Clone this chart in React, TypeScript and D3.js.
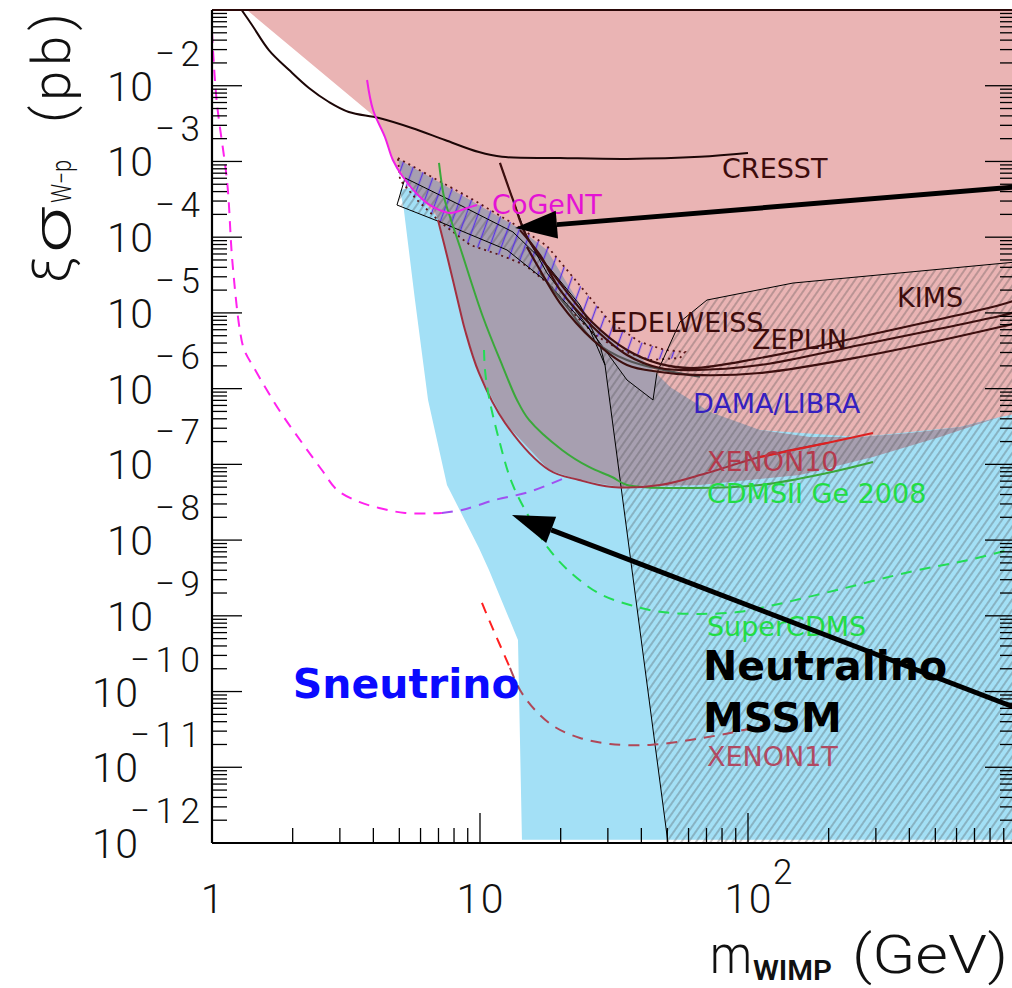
import React, { useEffect, useRef } from "react";
import * as d3 from "d3";

type Pt = [number, number];

// all points: [WIMP mass (GeV), cross section (pb)]
const sneutrinoRegion: Pt[] = [
  [5.03, 4.2e-4], [5.2, 2.29e-4], [5.72, 1.48e-5], [6.4, 7.08e-7], [7.53, 5.34e-8],
  [9.91, 7.87e-9], [10.8, 4.03e-9], [13.86, 4.8e-10], [14.34, 1.1e-12], [1000, 1.1e-12],
  [1000, 1.3e-6], [156, 1.3e-6], [28, 5.95e-6], [11.87, 6.78e-5], [7.09, 3.1e-4], [5.97, 4.9e-4],
];

const excludedRegion: Pt[] = [
  [1.35, 1e-1], [1000, 1e-1], [1000, 4.63e-7], [871, 4.22e-7], [618, 3.12e-7], [262, 2.3e-7],
  [111, 2.84e-7], [66.2, 3.86e-7], [28, 1.3e-6], [11.87, 1.48e-5], [7.09, 1.69e-4],
  [5.25, 5.69e-4], [4.99, 7.05e-4], [4.73, 1.045e-3], [4.42, 2.1e-3], [4.06, 3.86e-3],
];

const overlapRegion: Pt[] = [
  [4.94, 1.08e-3], [6.51, 6.24e-4], [9.18, 3.1e-4], [13.74, 1.36e-4], [17.78, 6.78e-5],
  [20.77, 2.72e-5], [25.72, 8.06e-6], [33.27, 3.44e-6], [39.54, 2.62e-6], [51.18, 1.05e-6],
  [72.13, 4.92e-7], [110.9, 2.84e-7], [170.3, 2.3e-7], [261.8, 2.3e-7], [402, 2.6e-7],
  [618, 3.12e-7], [871, 4.22e-7], [520, 2.3e-7], [292.6, 1.25e-7], [156.3, 7.24e-8],
  [66.17, 5.34e-8], [33.27, 5.03e-8], [23.41, 6.22e-8], [18.09, 8.43e-8], [12.4, 3.52e-7],
  [9.91, 1.61e-6], [8.79, 5.95e-6], [8.42, 1.093e-5], [7.6, 5.0e-5], [6.97, 1.69e-4],
  [6.68, 2.51e-4], [5.97, 3.4e-4], [5.16, 6.24e-4],
];

const neutralinoRegion: Pt[] = [
  [4.9, 2.66e-4], [5.25, 6.05e-4], [8.42, 2.66e-4], [13.28, 1.17e-4], [17.78, 4.29e-5],
  [22.23, 1.197e-5], [28.03, 4.01e-6], [35.36, 1.3e-6], [44.22, 7.08e-7], [45.72, 1.61e-6],
  [55.72, 7.59e-6], [70.3, 1.48e-5], [147.2, 2.48e-5], [1000, 4.7e-5], [1000, 1e-12],
  [50.29, 1e-12], [29.27, 2.05e-6], [25.72, 5.95e-6], [17.78, 2.56e-5], [12.61, 6.78e-5],
  [7.09, 1.59e-4],
];

const boxUpper: Pt[] = [
  [5.25, 6.05e-4], [8.42, 2.66e-4], [13.28, 1.17e-4], [17.78, 4.29e-5], [23.6, 1.27e-5],
  [28.03, 3.77e-6], [29.27, 2.05e-6],
];
const boxLower: Pt[] = [
  [5.25, 6.05e-4], [4.9, 2.66e-4], [7.09, 1.59e-4], [12.61, 6.78e-5], [17.78, 2.56e-5],
  [25.72, 5.95e-6], [29.27, 2.05e-6], [50.29, 1e-12],
];
const heavyEdge: Pt[] = [
  [11.87, 9.55e-4], [13.28, 3.1e-4], [14.97, 1.006e-4], [17.78, 3.37e-5], [22.23, 1.197e-5],
  [28.03, 4.01e-6], [35.36, 1.3e-6], [44.22, 7.08e-7], [45.72, 1.61e-6], [55.72, 7.59e-6],
  [70.3, 1.48e-5], [147.2, 2.48e-5], [1000, 4.7e-5],
];

const damaRegion: Pt[] = [
  [4.94, 1.11e-3], [6.51, 6.43e-4], [9.18, 3.3e-4], [13.74, 1.41e-4], [17.78, 7.66e-5],
  [23.01, 2.56e-5], [30.56, 7.59e-6], [39.54, 4.13e-6], [48.99, 3.24e-6], [58.2, 3.05e-6],
  [55.72, 2.54e-6], [43.07, 2.39e-6], [33.27, 3.24e-6], [26.85, 5.11e-6], [21.67, 1.093e-5],
  [18.25, 2.34e-5], [14.72, 4.29e-5], [11.87, 5.82e-5], [9.18, 7.89e-5], [7.09, 1.59e-4],
  [5.82, 3.1e-4], [5.03, 5.69e-4],
];

const cresst: Pt[] = [
  [1.29, 1e-1], [1.41, 6.34e-2], [1.63, 2.96e-2], [1.94, 1.61e-2], [2.3, 9.33e-3],
  [2.73, 6.1e-3], [3.24, 4.5e-3], [4.2, 3.75e-3], [5.57, 2.77e-3], [7.4, 1.92e-3],
  [9.91, 1.33e-3], [12.08, 1.15e-3], [19.89, 1.11e-3], [35.36, 1.08e-3], [66.17, 1.15e-3],
  [100, 1.29e-3],
];
const kims: Pt[] = [
  [11.87, 9.55e-4], [13.28, 3.1e-4], [14.97, 1.006e-4], [19.89, 2.48e-5], [26.4, 7.36e-6],
  [35.36, 3.24e-6], [46.94, 2.12e-6], [62.34, 1.87e-6], [110.9, 2.54e-6], [261.8, 4.81e-6],
  [871, 1.27e-5], [1000, 1.48e-5],
];
const zeplin: Pt[] = [
  [14.1, 1.24e-4], [16.74, 5.82e-5], [19.89, 2.01e-5], [26.4, 6.52e-6], [35.36, 2.78e-6],
  [46.94, 1.87e-6], [62.34, 1.76e-6], [110.9, 2.05e-6], [261.8, 3.77e-6], [871, 9.11e-6],
  [1000, 1.03e-5],
];
const edelweiss: Pt[] = [
  [14.97, 7.42e-5], [16.74, 3.69e-5], [19.89, 1.35e-5], [26.4, 4.39e-6], [35.36, 2.05e-6],
  [46.94, 1.66e-6], [62.34, 1.515e-6], [110.9, 1.61e-6], [261.8, 2.62e-6], [871, 6.52e-6],
  [1000, 7.36e-6],
];
const cdmsSi: Pt[] = [
  [16.74, 3.37e-5], [21.12, 1.197e-5], [26.4, 4.39e-6], [35.36, 2.39e-6], [66.17, 1.43e-6],
];
const cogent: Pt[] = [
  [3.79, 1.19e-2], [3.99, 4.78e-3], [4.42, 2.1e-3], [4.73, 1.045e-3], [5.16, 6.24e-4],
  [5.97, 3.4e-4], [6.68, 2.51e-4], [7.73, 2.09e-4], [8.94, 2.43e-4], [9.75, 2.66e-4],
];
const cdmsGe: Pt[] = [
  [7.03, 9.55e-4], [7.34, 3.4e-4], [7.73, 1.85e-4], [8.42, 7.42e-5], [10.26, 8.83e-6],
  [12.18, 1.93e-6], [13.74, 7.08e-7], [15.24, 3.86e-7], [20.23, 1.55e-7], [25.51, 9.24e-8],
  [31.09, 6.81e-8], [35.36, 5.34e-8], [62.34, 4.88e-8], [110.9, 5.34e-8], [197.1, 7.69e-8],
  [292.6, 1.075e-7],
];
const xenon10: Pt[] = [
  [6.97, 1.69e-4], [7.6, 5.0e-5], [8.42, 1.093e-5], [8.79, 5.95e-6], [9.91, 1.61e-6],
  [12.4, 3.52e-7], [18.09, 8.43e-8], [23.41, 6.22e-8], [31.09, 5.03e-8], [46.94, 5.34e-8],
  [70.3, 7.69e-8], [110.9, 1.25e-7], [197.1, 1.915e-7], [292.6, 2.6e-7],
];
const lightDashed: Pt[] = [
  [1.0, 5.12e-2], [1.04, 6.48e-3], [1.14, 5.19e-4], [1.19, 5.0e-5], [1.27, 5.95e-6],
  [1.32, 3.24e-6], [1.45, 1.76e-6], [1.78, 5.22e-7], [2.17, 1.915e-7], [2.57, 8.43e-8],
  [2.93, 4.59e-8], [3.54, 3.19e-8], [4.2, 2.66e-8], [5.25, 2.28e-8], [7.21, 2.28e-8],
];
const purpleDashed: Pt[] = [
  [7.21, 2.28e-8], [8.57, 2.5e-8], [11.38, 3.39e-8], [15.24, 4.32e-8], [21.12, 6.81e-8],
];
const superCdms: Pt[] = [
  [10.35, 3.24e-6], [10.44, 1.76e-6], [10.8, 7.76e-7], [11.78, 2.1e-7], [13.16, 5.68e-8],
  [15.24, 2.02e-8], [17.94, 7.87e-9], [21.67, 3.79e-9], [28.03, 1.94e-9], [36.28, 1.39e-9],
  [46.94, 1.13e-9], [66.17, 1.06e-9], [93.4, 1.13e-9], [120.8, 1.35e-9], [222.3, 2.26e-9],
  [416, 3.91e-9], [667.7, 5.46e-9], [1000, 7.87e-9],
];
const xenon1T: Pt[] = [
  [10.17, 1.48e-9], [10.89, 8.3e-10], [11.87, 4.12e-10], [12.94, 2.05e-10], [14.1, 1.05e-10],
  [16.04, 5.71e-11], [19.04, 3.4e-11], [23.6, 2.44e-11], [30.56, 2.03e-11], [43.07, 1.97e-11],
  [60.76, 2.29e-11], [85.7, 2.84e-11], [120.8, 3.73e-11],
];

const arrows: Pt[][] = [
  [[1000, 4.6e-4], [13.51, 1.32e-4]],
  [[1000, 6.07e-11], [13.16, 2.15e-8]],
];

const experimentLabels: [string, number, number][] = [
  ["CRESST", 80.0, 6.05e-4],
  ["CoGeNT", 11.09, 2.02e-4],
  ["KIMS", 359.7, 1.2e-5],
  ["EDELWEISS", 30.56, 5.6e-6],
  ["ZEPLIN", 103.5, 3.34e-6],
  ["DAMA/LIBRA", 62.34, 4.77e-7],
  ["XENON10", 70.3, 8.18e-8],
  ["CDMSII Ge 2008", 70.3, 3.09e-8],
  ["SuperCDMS", 70.3, 5.4e-10],
  ["XENON1T", 70.3, 1.04e-11],
];
const modelLabels: [string, number, number][] = [
  ["Sneutrino", 2.0, 8.22e-11],
  ["Neutralino", 67.9, 1.42e-10],
  ["MSSM", 67.9, 2.9e-11],
];

const labelColor: Record<string, string> = {
  CRESST: "#3c0c0c",
  CoGeNT: "#e412d4",
  KIMS: "#3c0c0c",
  EDELWEISS: "#3c0c0c",
  ZEPLIN: "#3c0c0c",
  "DAMA/LIBRA": "#3420c0",
  XENON10: "#b43a4c",
  "CDMSII Ge 2008": "#22dd44",
  SuperCDMS: "#22dd44",
  XENON1T: "#b04a62",
  Sneutrino: "#0a0aff",
  Neutralino: "#000",
  MSSM: "#000",
};

export default function App() {
  const ref = useRef<SVGSVGElement>(null);

  const drawChart = () => {
    const svg = d3.select(ref.current);
    svg.selectAll("*").remove();

    const left = 212, right = 1016, top = 10, bottom = 843;
    const x = d3.scaleLog().domain([1, 1000]).range([left, right]);
    const y = d3.scaleLog().domain([1e-12, 1e-1]).range([bottom, top]);

    const straight = d3.line<Pt>().x((d) => x(d[0])).y((d) => y(d[1]));
    const smooth = d3
      .line<Pt>()
      .x((d) => x(d[0]))
      .y((d) => y(d[1]))
      .curve(d3.curveCatmullRom.alpha(0.5));

    const defs = svg.append("defs");
    defs
      .append("clipPath")
      .attr("id", "plot")
      .append("rect")
      .attr("x", left)
      .attr("y", top)
      .attr("width", right - left)
      .attr("height", bottom - top);

    const hatch = defs
      .append("pattern")
      .attr("id", "hatch")
      .attr("patternUnits", "userSpaceOnUse")
      .attr("width", 6)
      .attr("height", 6)
      .attr("patternTransform", "rotate(35)");
    hatch
      .append("line")
      .attr("x1", 3).attr("y1", 0).attr("x2", 3).attr("y2", 6)
      .attr("stroke", "#4a4a4a")
      .attr("stroke-opacity", 0.75)
      .attr("stroke-width", 0.8);

    const damaHatch = defs
      .append("pattern")
      .attr("id", "damaHatch")
      .attr("patternUnits", "userSpaceOnUse")
      .attr("width", 11)
      .attr("height", 11)
      .attr("patternTransform", "rotate(20)");
    damaHatch
      .append("line")
      .attr("x1", 5.5).attr("y1", 0).attr("x2", 5.5).attr("y2", 11)
      .attr("stroke", "#5b36e6")
      .attr("stroke-width", 1.4);

    const g = svg.append("g").attr("clip-path", "url(#plot)");

    // filled regions
    const area = (pts: Pt[], fill: string) =>
      g.append("path").attr("d", straight(pts) + "Z").attr("fill", fill).attr("stroke", "none");
    area(sneutrinoRegion, "#a3e0f6");
    area(excludedRegion, "#eab4b4");
    area(overlapRegion, "#a79fb0");
    area(neutralinoRegion, "url(#hatch)");
    g.append("path")
      .attr("d", straight(damaRegion) + "Z")
      .attr("fill", "url(#damaHatch)")
      .attr("stroke", "#5a1616")
      .attr("stroke-width", 1.8)
      .attr("stroke-dasharray", "2 4");

    // thin outlines
    [boxUpper, boxLower, heavyEdge].forEach((pts) =>
      g.append("path").attr("d", straight(pts)).attr("fill", "none").attr("stroke", "#000").attr("stroke-width", 1)
    );

    const curve = (pts: Pt[], color: string, width: number, dash?: string) => {
      const p = g
        .append("path")
        .attr("d", smooth(pts))
        .attr("fill", "none")
        .attr("stroke", color)
        .attr("stroke-width", width)
        .attr("stroke-linejoin", "round");
      if (dash) p.attr("stroke-dasharray", dash);
    };
    curve(cresst, "#1c0606", 2);
    curve(cdmsSi, "#555", 2);
    curve(edelweiss, "#3d0f0f", 2.2);
    curve(zeplin, "#3d0f0f", 2.2);
    curve(kims, "#3d0f0f", 2.2);
    curve(cdmsGe, "#3aa83a", 2);
    curve(xenon10.slice(0, -1), "#a33040", 2);
    curve(xenon10.slice(-3), "#dd2020", 2);
    curve(cogent, "#f01ee6", 2);
    curve(lightDashed, "#ff22ee", 2, "11 8");
    curve(purpleDashed, "#a050f0", 2, "11 8");
    curve(superCdms, "#22dd55", 2, "11 8");
    curve(xenon1T.slice(0, 4), "#ff2020", 2, "11 8");
    curve(xenon1T.slice(3), "#b04858", 2, "11 8");

    // labels
    experimentLabels.forEach(([t, m, s]) =>
      g.append("text")
        .attr("x", x(m))
        .attr("y", y(s))
        .attr("font-family", "DejaVu Sans, sans-serif")
        .attr("font-size", 27)
        .attr("fill", labelColor[t])
        .text(t)
    );
    modelLabels.forEach(([t, m, s]) =>
      g.append("text")
        .attr("x", x(m))
        .attr("y", y(s))
        .attr("font-family", "DejaVu Sans, sans-serif")
        .attr("font-weight", "bold")
        .attr("font-size", 41)
        .attr("fill", labelColor[t])
        .text(t)
    );

    // arrows
    arrows.forEach(([from, to]) => {
      const x0 = x(from[0]), y0 = y(from[1]);
      const x1 = x(to[0]), y1 = y(to[1]);
      const len = Math.hypot(x1 - x0, y1 - y0);
      const ux = (x1 - x0) / len, uy = (y1 - y0) / len;
      const bx = x1 - ux * 42, by = y1 - uy * 42;
      g.append("line")
        .attr("x1", x0).attr("y1", y0).attr("x2", bx).attr("y2", by)
        .attr("stroke", "#000").attr("stroke-width", 5);
      g.append("path")
        .attr("d", `M${x1},${y1}L${bx - uy * 14},${by + ux * 14}L${bx + uy * 14},${by - ux * 14}Z`)
        .attr("fill", "#000");
    });

    // frame and ticks
    const axes = svg.append("g").attr("stroke", "#000");
    const isMajor = (v: number) => Math.abs(Math.log10(v) - Math.round(Math.log10(v))) < 1e-6;
    y.ticks(20).forEach((v) => {
      const len = isMajor(v) ? 30 : 15;
      axes.append("line").attr("x1", left).attr("x2", left + len).attr("y1", y(v)).attr("y2", y(v)).attr("stroke-width", 1.3);
      axes.append("line").attr("x1", right).attr("x2", right - len - 1).attr("y1", y(v)).attr("y2", y(v)).attr("stroke-width", 1.3);
    });
    x.ticks(20).forEach((v) => {
      const len = isMajor(v) ? 30 : 15;
      axes.append("line").attr("x1", x(v)).attr("x2", x(v)).attr("y1", bottom).attr("y2", bottom - len).attr("stroke-width", 1.3);
    });
    axes.append("line").attr("x1", left).attr("x2", right).attr("y1", top).attr("y2", top).attr("stroke", "#2a0808").attr("stroke-width", 2);
    axes.append("line").attr("x1", left).attr("x2", left).attr("y1", top).attr("y2", bottom).attr("stroke-width", 2.2);
    axes.append("line").attr("x1", left).attr("x2", right).attr("y1", bottom).attr("y2", bottom).attr("stroke-width", 2.2);

    const font = "Roboto, Liberation Sans, sans-serif";
    const label = svg.append("g").attr("font-family", font).attr("font-weight", 300).attr("fill", "#111");

    // y tick labels 10^k
    d3.range(-12, -1).forEach((k) => {
      const yy = y(Math.pow(10, k));
      const exp = "\u2212" + Math.abs(k);
      const two = Math.abs(k) >= 10;
      label.append("text")
        .attr("x", two ? 138 : 153).attr("y", yy + 15)
        .attr("text-anchor", "end").attr("font-size", 41)
        .attr("textLength", 46).attr("lengthAdjust", "spacing")
        .text("10");
      label.append("text")
        .attr("x", 200).attr("y", yy - 20)
        .attr("text-anchor", "end").attr("font-size", 35)
        .attr("textLength", two ? 70 : 45).attr("lengthAdjust", "spacing")
        .text(exp);
    });

    // x tick labels
    label.append("text").attr("x", x(1)).attr("y", 913).attr("text-anchor", "middle").attr("font-size", 41).text("1");
    label.append("text").attr("x", x(10)).attr("y", 913).attr("text-anchor", "middle").attr("font-size", 41)
      .attr("textLength", 47).attr("lengthAdjust", "spacing").text("10");
    label.append("text").attr("x", x(100)).attr("y", 913).attr("text-anchor", "middle").attr("font-size", 41)
      .attr("textLength", 47).attr("lengthAdjust", "spacing").text("10");
    label.append("text").attr("x", x(100) + 25).attr("y", 884).attr("font-size", 35).text("2");

    // x title
    label.append("text").attr("x", 710).attr("y", 973).attr("font-size", 54)
      .attr("textLength", 42).attr("lengthAdjust", "spacingAndGlyphs").text("m");
    label.append("text").attr("x", 753).attr("y", 980).attr("font-size", 28).attr("font-weight", 600)
      .attr("textLength", 79).attr("lengthAdjust", "spacingAndGlyphs").text("WIMP");
    label.append("text").attr("x", 852).attr("y", 973).attr("font-size", 54)
      .attr("textLength", 156).attr("lengthAdjust", "spacingAndGlyphs").text("(GeV)");

    // y title (rotated)
    const yt = label.append("g").attr("transform", "translate(70,285) rotate(-90)");
    yt.append("text").attr("x", 2).attr("y", 0).attr("font-size", 54)
      .attr("textLength", 26).attr("lengthAdjust", "spacingAndGlyphs").text("\u03be");
    yt.append("text").attr("x", 32).attr("y", 0).attr("font-size", 54)
      .attr("textLength", 46).attr("lengthAdjust", "spacingAndGlyphs").text("\u03c3");
    yt.append("text").attr("x", 82).attr("y", 1).attr("font-size", 27)
      .attr("textLength", 43).attr("lengthAdjust", "spacingAndGlyphs").text("W\u2212p");
    yt.append("text").attr("x", 162).attr("y", 0).attr("font-size", 54)
      .attr("textLength", 110).attr("lengthAdjust", "spacing").text("(pb)");
  };

  useEffect(() => {
    drawChart();
  }, []);

  return (
    <div style={{ position: "absolute", left: 0, top: 0 }}>
      <svg ref={ref} width={1012} height={988} style={{ display: "block", background: "#fff" }} />
    </div>
  );
}
